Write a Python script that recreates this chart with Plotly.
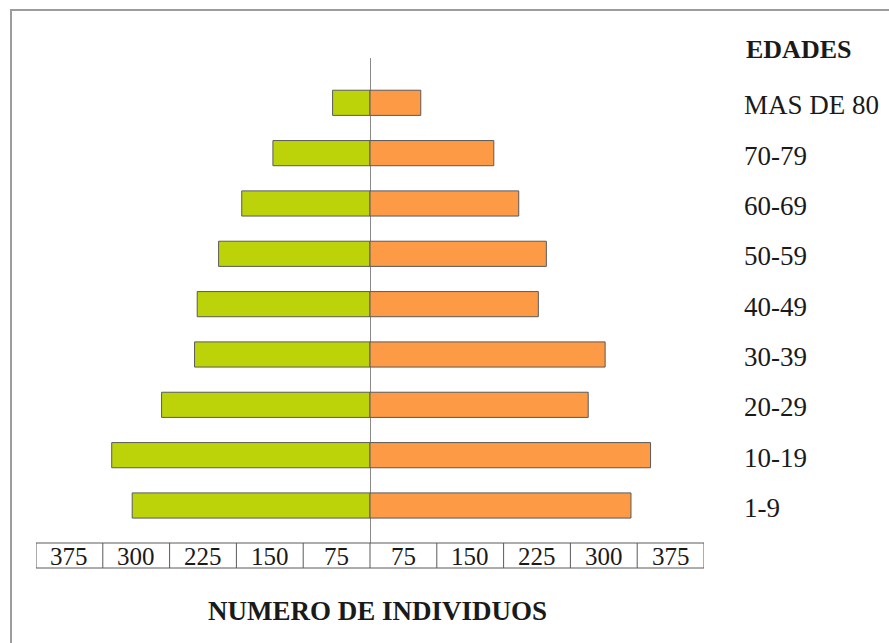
import plotly.graph_objects as go

# Population by age group (left and right halves of the pyramid)
age_groups = ["1-9", "10-19", "20-29", "30-39", "40-49",
              "50-59", "60-69", "70-79", "MAS DE 80"]
left_counts = [267, 290, 234, 197, 194, 170, 144, 109, 42]
right_counts = [293, 315, 245, 264, 189, 198, 167, 139, 57]

# Scale strip under the chart
scale_step = 75
scale_labels = ["375", "300", "225", "150", "75", "75", "150", "225", "300", "375"]

W, H = 889, 643
M_L, M_R, M_T, M_B = 36, 185, 58, 100
PLOT_W = W - M_L - M_R
PLOT_H = H - M_T - M_B


def px_x(px):
    return (px - M_L) / PLOT_W


def px_y(py):
    return (H - M_B - py) / PLOT_H


SERIF = "Liberation Serif, Times New Roman, serif"
INK = "#1a1a1a"
EDGE = "#5a5a5a"

fig = go.Figure()
fig.add_trace(go.Bar(
    y=age_groups, x=[-v for v in left_counts], orientation="h",
    width=0.5, marker=dict(color="#BDD309", line=dict(color=EDGE, width=1)),
    hoverinfo="skip", showlegend=False,
))
fig.add_trace(go.Bar(
    y=age_groups, x=right_counts, orientation="h",
    width=0.5, marker=dict(color="#FD9A46", line=dict(color=EDGE, width=1)),
    hoverinfo="skip", showlegend=False,
))

half = scale_step * len(scale_labels) / 2
edges = [-half + scale_step * i for i in range(len(scale_labels) + 1)]
centers = [(a + b) / 2 for a, b in zip(edges[:-1], edges[1:])]

shapes = [
    # outer frame
    dict(type="rect", xref="paper", yref="paper",
         x0=px_x(11), x1=px_x(W + 60), y0=px_y(H + 60), y1=px_y(10),
         line=dict(color="#9c9c9c", width=2), fillcolor="rgba(0,0,0,0)",
         layer="below"),
    # scale strip outline
    dict(type="rect", xref="x", yref="paper",
         x0=edges[0], x1=edges[-1], y0=px_y(568), y1=px_y(543),
         line=dict(color=EDGE, width=1), fillcolor="rgba(0,0,0,0)"),
]
for e in edges[1:-1]:
    shapes.append(dict(type="line", xref="x", yref="paper",
                       x0=e, x1=e, y0=px_y(568), y1=px_y(543),
                       line=dict(color=EDGE, width=1)))

annotations = [
    dict(x=c, y=px_y(556), xref="x", yref="paper", text=t, showarrow=False,
         xanchor="center", yanchor="middle",
         font=dict(family=SERIF, size=25, color=INK))
    for c, t in zip(centers, scale_labels)
]
annotations.append(dict(
    x=px_x(744), y=px_y(49), xref="paper", yref="paper", text="<b>EDADES</b>",
    showarrow=False, xanchor="left", yanchor="middle",
    font=dict(family=SERIF, size=26, color=INK)))
annotations.append(dict(
    x=px_x(377), y=px_y(611), xref="paper", yref="paper",
    text="<b>NUMERO DE INDIVIDUOS</b>", showarrow=False,
    xanchor="center", yanchor="middle",
    font=dict(family=SERIF, size=27, color=INK)))

fig.update_layout(
    width=W, height=H,
    margin=dict(l=M_L, r=M_R, t=M_T, b=M_B, autoexpand=False),
    paper_bgcolor="white", plot_bgcolor="white",
    barmode="overlay",
    shapes=shapes, annotations=annotations,
    xaxis=dict(range=[-half, half], showgrid=False, showticklabels=False,
               ticks="", showline=False, zeroline=True, automargin=False,
               zerolinecolor="#8a8a8a", zerolinewidth=1, fixedrange=True),
    yaxis=dict(type="category", categoryorder="array", categoryarray=age_groups,
               range=[-0.745, 8.89], side="right", showgrid=False,
               showline=False, ticks="", zeroline=False, automargin=False,
               ticklabelstandoff=39, ticklabelshift=2,
               tickfont=dict(family=SERIF, size=27, color=INK),
               fixedrange=True),
)

fig.write_html("out.html")
